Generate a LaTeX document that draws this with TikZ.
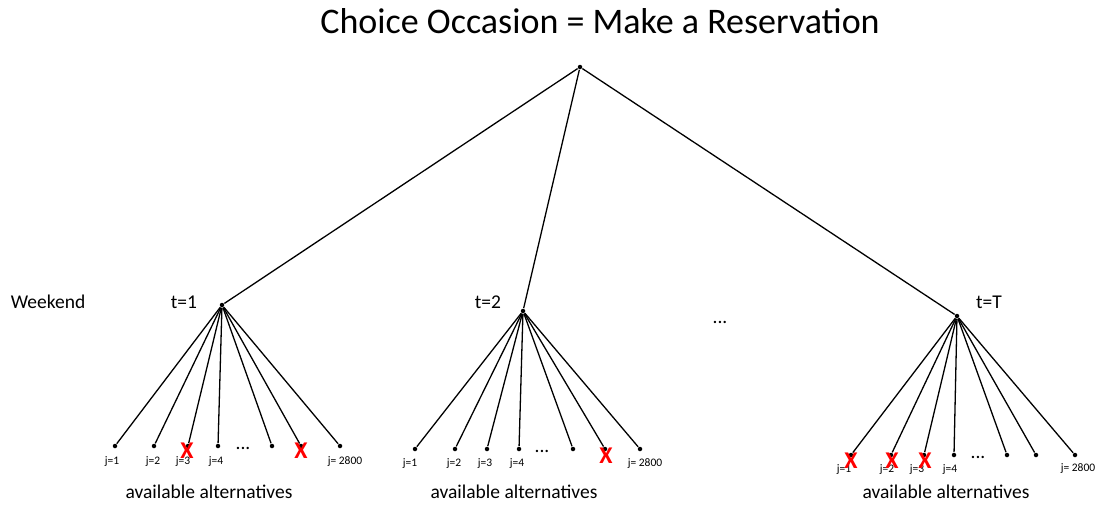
\documentclass[tikz,border=0pt]{standalone}
\usepackage{fontspec}
\setmainfont{Carlito}
\begin{document}
\begin{tikzpicture}[x=1pt, y=-1pt, line width=1.3pt,
    dot/.style={circle, fill, inner sep=0pt, minimum size=4.5pt},
    jlabel/.style={font=\fontsize{11.5}{12}\selectfont, inner sep=0pt},
    cross/.style={text=red, font=\bfseries\fontsize{24}{24}\selectfont, inner sep=0pt},
    big/.style={font=\fontsize{19.5}{20}\selectfont, inner sep=0pt}]
    \useasboundingbox (0,0) rectangle (1098,504);

    \node[font=\fontsize{36}{37}\selectfont, inner sep=0pt] (title) at (600,21) {Choice Occasion = Make a Reservation};
    \node[dot] (root) at (580,67) {};

    \node[dot] (t1) at (222,305) {};
    \node[dot] (t2) at (523,311) {};
    \node[dot] (tT) at (957,316) {};
    \draw (root) -- (t1);
    \draw (root) -- (t2);
    \draw (root) -- (tT);

    \node[big] (weekend) at (48,302) {Weekend};
    \node[big] (lt1) at (184,302) {t=1};
    \node[big] (lt2) at (488,302) {t=2};
    \node[big] (ltT) at (989,302) {t=T};
    \node[big] (tdots) at (720,322) {...};

    % t=1
    \foreach \n/\x in {1/115,2/154,3/188,4/218,5/272,6/301,7/340}
        \node[dot] (a\n) at (\x,446) {};
    \foreach \n in {1,...,7}
        \draw (t1) -- (a\n);
    \node[jlabel] at (112,462) {j=1};
    \node[jlabel] at (153,462) {j=2};
    \node[jlabel] at (183,462) {j=3};
    \node[jlabel] at (216,462) {j=4};
    \node[jlabel] at (345,462) {j= 2800};
    \node[big] at (243,448) {...};
    \node[cross] at (187,451) {X};
    \node[cross] at (301,451) {X};
    \node[big] at (209,492) {available alternatives};

    % t=2
    \foreach \n/\x in {1/415,2/455,3/487,4/519,5/573,6/605,7/640}
        \node[dot] (b\n) at (\x,449) {};
    \foreach \n in {1,...,7}
        \draw (t2) -- (b\n);
    \node[jlabel] at (410,464) {j=1};
    \node[jlabel] at (454,464) {j=2};
    \node[jlabel] at (485,464) {j=3};
    \node[jlabel] at (517,464) {j=4};
    \node[jlabel] at (645,464) {j= 2800};
    \node[big] at (542,451) {...};
    \node[cross] at (606,456) {X};
    \node[big] at (514,492) {available alternatives};

    % t=T
    \foreach \n/\x in {1/851,2/891,3/924,4/954,5/1007,6/1036,7/1075}
        \node[dot] (c\n) at (\x,455) {};
    \foreach \n in {1,...,7}
        \draw (tT) -- (c\n);
    \node[jlabel] at (844,470) {j=1};
    \node[jlabel] at (887,470) {j=2};
    \node[jlabel] at (917,470) {j=3};
    \node[jlabel] at (950,470) {j=4};
    \node[jlabel] at (1078,469) {j= 2800};
    \node[big] at (978,457) {...};
    \node[cross] at (851,461) {X};
    \node[cross] at (892,461) {X};
    \node[cross] at (925,461) {X};
    \node[big] at (946,492) {available alternatives};
\end{tikzpicture}
\end{document}
